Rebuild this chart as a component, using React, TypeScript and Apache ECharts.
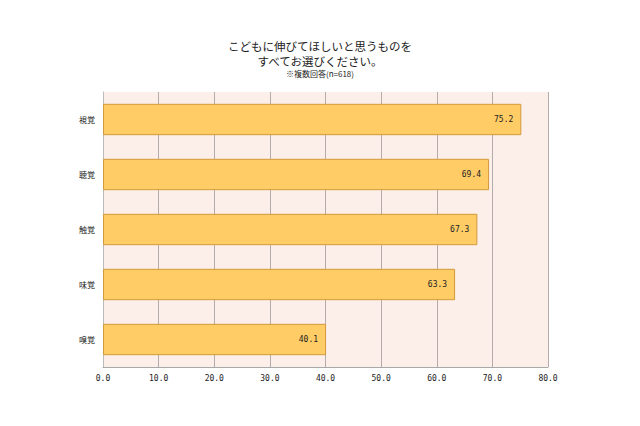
import React, { useEffect, useRef } from "react";
import * as echarts from "echarts";

const categories = ["視覚", "聴覚", "触覚", "味覚", "嗅覚"];
const values = [75.2, 69.4, 67.3, 63.3, 40.1];
const titleLines = ["こどもに伸びてほしいと思うものを", "すべてお選びください。"];
const subtitle = "※複数回答(n=618)";

export default function App() {
  const ref = useRef<HTMLDivElement>(null);
  useEffect(() => {
    document.body.style.margin = "0";
    const chart = echarts.init(ref.current!, null, { renderer: "svg" });
    const font = "'Noto Sans CJK JP', sans-serif";
    const mono = "'DejaVu Sans Mono', monospace";
    const titleTops = [40, 55];
    chart.setOption({
      animation: false,
      backgroundColor: "#ffffff",
      title: [
        ...titleLines.map((t, i) => ({
          text: t,
          left: "center",
          top: titleTops[i],
          padding: 0,
          textStyle: { fontSize: 11.5, fontWeight: "normal", color: "#222", fontFamily: font, lineHeight: 12 },
        })),
        {
          text: subtitle,
          left: "center",
          top: 69,
          padding: 0,
          textStyle: { fontSize: 8, fontWeight: "normal", color: "#222", fontFamily: font, lineHeight: 8 },
        },
      ],
      grid: {
        left: 103,
        right: 92,
        top: 92,
        bottom: 59,
        show: true,
        backgroundColor: "#FCEEE8",
        borderWidth: 0,
      },
      xAxis: {
        type: "value",
        min: 0,
        max: 80,
        interval: 10,
        axisLine: { show: true, lineStyle: { color: "#a8a8a8" } },
        axisTick: { show: false },
        splitLine: { show: true, showMinLine: false, showMaxLine: true, lineStyle: { color: "#b4acaa", width: 1 } },
        axisLabel: {
          formatter: (v: number) => v.toFixed(1),
          fontSize: 8,
          color: "#222",
          fontFamily: mono,
          margin: 7,
        },
      },
      yAxis: {
        type: "category",
        data: categories,
        inverse: true,
        axisLine: { show: true, lineStyle: { color: "#bbbbbb" } },
        axisTick: { show: false },
        axisLabel: { fontSize: 8, color: "#222", fontFamily: font, margin: 8 },
      },
      series: [
        {
          type: "bar",
          data: values,
          barCategoryGap: "43%",
          itemStyle: { color: "#FFCC66", borderColor: "#D39A3C", borderWidth: 1 },
          label: {
            show: true,
            position: "insideRight",
            formatter: (p: any) => p.value.toFixed(1),
            fontSize: 8,
            color: "#222",
            fontFamily: mono,
            distance: 8,
          },
        },
      ],
    });
    return () => chart.dispose();
  }, []);
  return <div ref={ref} style={{ width: 640, height: 426 }} />;
}
